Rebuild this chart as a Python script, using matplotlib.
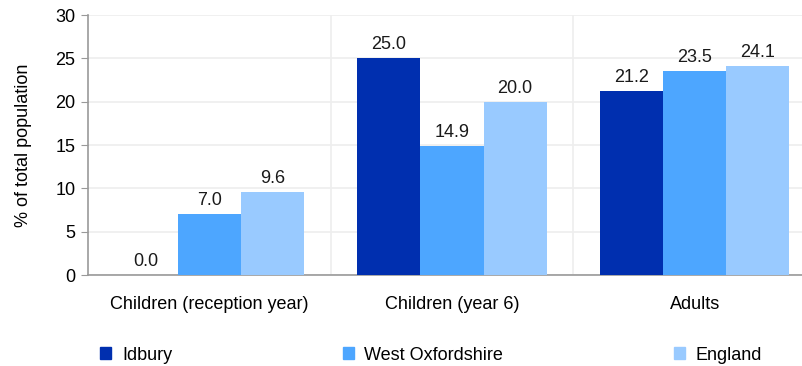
import matplotlib.pyplot as plt
import numpy as np
from matplotlib.patches import Patch

plt.rcParams['font.family'] = ['Liberation Sans', 'DejaVu Sans']

# Data
categories = ['Children (reception year)', 'Children (year 6)', 'Adults']
series = ['Idbury', 'West Oxfordshire', 'England']
idbury = [0.0, 25.0, 21.2]
west_oxon = [7.0, 14.9, 23.5]
england = [9.6, 20.0, 24.1]
colors = ['#002FAF', '#4DA6FF', '#99CAFF']

fs = 13
fig = plt.figure(figsize=(8.03, 3.66), dpi=100)
ax = fig.add_axes([88 / 803, 91 / 366, 728 / 803, 260 / 366])

x = np.arange(len(categories))
w = 0.26
for i, (vals, c) in enumerate(zip([idbury, west_oxon, england], colors)):
    bars = ax.bar(x + (i - 1) * w, vals, w, color=c, zorder=3)
    for b, v in zip(bars, vals):
        ax.annotate(f'{v:.1f}', (b.get_x() + b.get_width() / 2, v),
                    xytext=(0, 5), textcoords='offset pixels',
                    ha='center', va='bottom', fontsize=fs, color='#1a1a1a')

ax.set_xlim(-0.5, 2.5)
ax.set_ylim(0, 30)
ax.set_yticks(range(0, 31, 5))
ax.set_xticks(x)
ax.set_xticklabels(categories, fontsize=fs)
ax.tick_params(axis='x', length=0, pad=15)
ax.tick_params(axis='y', length=5, color='#999999', labelsize=fs, pad=4)

# light grid: horizontal at ticks, vertical between categories
ax.grid(axis='y', color='#eeeeee', lw=1.2, zorder=0)
for b in [0.5, 1.5]:
    ax.axvline(b, color='#eeeeee', lw=1.2, zorder=0)

for s in ['top', 'right']:
    ax.spines[s].set_visible(False)
ax.spines['left'].set_color('#999999')
ax.spines['bottom'].set_color('#999999')
ax.spines['left'].set_linewidth(1.2)
ax.spines['bottom'].set_linewidth(1.2)

ax.set_ylabel('% of total population', fontsize=fs)
ax.yaxis.set_label_coords(-56 / 728, 0.5)

handles = [Patch(color=c, label=s) for c, s in zip(colors, series)]
fig.legend(handles=handles, loc='center left', bbox_to_anchor=(84 / 803, 11 / 366),
           ncol=3, frameon=False, fontsize=fs, handlelength=0.6, handleheight=0.6,
           handletextpad=0.6, columnspacing=9.45)

plt.savefig('out.png', dpi=100)
